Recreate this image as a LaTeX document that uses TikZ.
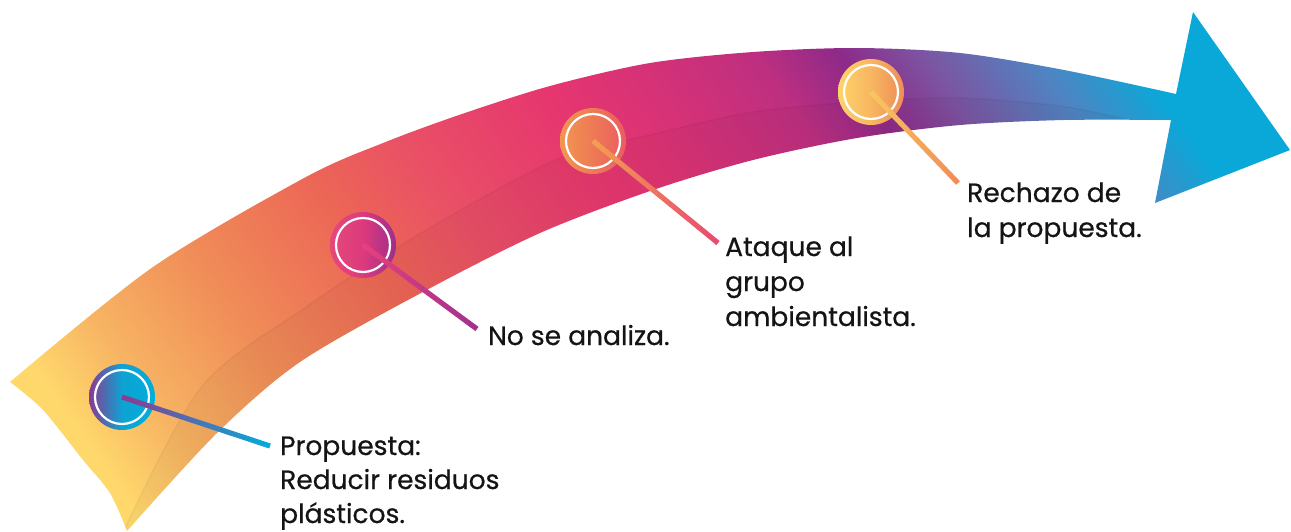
\documentclass[tikz,border=0pt]{standalone}
\usepackage{fontspec}
\setmainfont{Poppins}
\newfontfamily\stepfont{Poppins}[FakeBold=0.6]
\usetikzlibrary{calc}

\definecolor{ink}{HTML}{141414}
\definecolor{bandA}{HTML}{FFD86C}
\definecolor{bandB}{HTML}{F7B463}
\definecolor{bandC}{HTML}{F08C58}
\definecolor{bandD}{HTML}{EC6656}
\definecolor{bandE}{HTML}{E94F66}
\definecolor{bandF}{HTML}{E6366F}
\definecolor{bandG}{HTML}{D83276}
\definecolor{bandH}{HTML}{BE2F80}
\definecolor{bandI}{HTML}{8E2A88}
\definecolor{bandJ}{HTML}{7C55A2}
\definecolor{bandK}{HTML}{4F84C2}
\definecolor{bandL}{HTML}{0AA8D8}
\definecolor{bandM}{HTML}{00AAD8}

\pgfdeclarehorizontalshading{bandshade}{100bp}{color(0bp)=(bandA); color(29.3bp)=(bandA);
  color(32.1bp)=(bandB); color(36.4bp)=(bandC); color(41.4bp)=(bandD); color(45bp)=(bandE);
  color(50bp)=(bandF); color(52.9bp)=(bandG); color(56.8bp)=(bandH); color(59.3bp)=(bandI);
  color(61.8bp)=(bandJ); color(65bp)=(bandK); color(67.9bp)=(bandL); color(100bp)=(bandM)}

\tikzset{
  dot/.style={circle, minimum size=66pt, inner sep=0pt,
    path picture={\draw[white, line width=2.2pt] (path picture bounding box.center) circle (27pt);}},
  lbl/.style={anchor=base west, align=left, inner sep=0pt, text=ink,
    font=\stepfont\fontsize{26.5}{35}\selectfont},
}

\begin{document}
\begin{tikzpicture}[x=1pt, y=-1pt]
\useasboundingbox (0,0) rectangle (1291,531);
% ribbon with head
\begin{scope}
  \clip plot[smooth, tension=0.5] coordinates {(10,382) (153,267) (306,177) (383,143) (459,115)
      (550,86) (650,63) (753,52) (857,48) (960,53) (1064,70) (1176,94)}
    -- (1193,12) -- (1290,150) -- (1155,203) -- (1171,120)
    -- plot[smooth, tension=0.5] coordinates {(1171,120) (1064,120) (960,125) (857,138) (753,160)
      (653,190) (540,233) (421,293) (300,362) (217,433) (127,531)}
    -- plot[smooth, tension=0.5] coordinates {(127,531) (110,493) (83,460) (43,410) (10,382)}
    -- cycle;
  \begin{scope}[transform canvas={shift={(0,531)}, rotate=35}]
    \shade[shading=bandshade] (0,-900) rectangle (1400,900);
  \end{scope}
  % fold of the ribbon
  \fill[black, opacity=0.035] plot[smooth] coordinates {(110,560) (199,390) (306,307) (421,233)
    (555,160) (650,135) (753,112) (857,102) (960,98) (1060,106) (1120,118) (1150,126)}
    -- (1150,600) -- (110,600) -- cycle;
  \draw[black, opacity=0.04, line width=1.5pt] plot[smooth] coordinates {(110,560) (199,390) (306,307)
    (421,233) (555,160) (650,135) (753,112) (857,102) (960,98) (1060,106) (1120,118) (1150,126)};
\end{scope}

% steps
\definecolor{dotA}{HTML}{8A3A92}\definecolor{dotB}{HTML}{00AEDA}
\node[dot, left color=dotA, right color=dotB, middle color=dotB!90!dotA] (c1) at (122,397) {};
\node[dot, left color={rgb,255:red,230;green,72;blue,122}, right color={rgb,255:red,158;green,46;blue,140},
  middle color={rgb,255:red,220;green,58;blue,124}] (c2) at (363,245) {};
\node[dot, left color={rgb,255:red,242;green,150;blue,80}, right color={rgb,255:red,234;green,92;blue,98},
  middle color={rgb,255:red,238;green,122;blue,85}] (c3) at (593,141) {};
\node[dot, left color={rgb,255:red,253;green,212;blue,106}, right color={rgb,255:red,238;green,140;blue,88},
  middle color={rgb,255:red,248;green,182;blue,96}] (c4) at (871,92) {};

\coordinate (e1) at (270,446);
\coordinate (e2) at (477,329);
\coordinate (e3) at (718,243);
\coordinate (e4) at (958,183);

\definecolor{lnA}{HTML}{8E3A92}\definecolor{lnB}{HTML}{00AEDA}
\definecolor{lnC}{HTML}{E8407E}\definecolor{lnD}{HTML}{A0308E}
\definecolor{lnE}{HTML}{F2A052}\definecolor{lnF}{HTML}{E84870}
\definecolor{lnG}{HTML}{F8C860}\definecolor{lnH}{HTML}{F08A58}
\foreach \c/\e/\a/\b in {c1/e1/lnA/lnB, c2/e2/lnC/lnD, c3/e3/lnE/lnF, c4/e4/lnG/lnH}
  \shade[left color=\a, right color=\b]
    ($(\c.center)!2.6pt!90:(\e)$) -- ($(\e)!2.6pt!-90:(\c.center)$)
    -- ($(\e)!2.6pt!90:(\c.center)$) -- ($(\c.center)!2.6pt!-90:(\e)$) -- cycle;

% labels (base = last line)
\node[lbl, font=\stepfont\fontsize{26.5}{34}\selectfont] (t1) at (280,523) {Propuesta:\\Reducir residuos\\plásticos.};
\node[lbl] (t2) at (488,345) {No se analiza.};
\node[lbl] (t3) at (725,326) {Ataque al\\grupo\\ambientalista.};
\node[lbl] (t4) at (967,237) {Rechazo de\\la propuesta.};
\end{tikzpicture}
\end{document}
